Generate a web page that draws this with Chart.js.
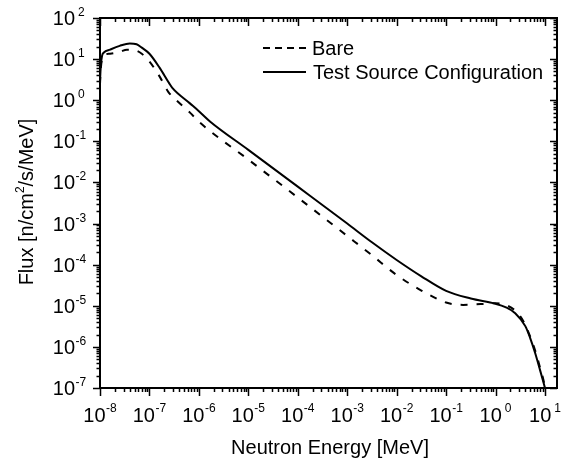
<!DOCTYPE html>
<html>
<head>
<meta charset="utf-8">
<script src="https://cdn.jsdelivr.net/npm/chart.js@4/dist/chart.umd.min.js"></script>
<style>
  html, body { margin: 0; padding: 0; background: #fff; }
  #wrap { width: 563px; height: 460px; }
</style>
</head>
<body>
<div id="wrap"><canvas id="fluxChart" width="563" height="460"></canvas></div>
<script>
// energies in MeV, flux in n/cm2/s/MeV
const bareEnergy = [1e-8, 1.04e-8, 1.1e-8, 1.2e-8, 1.6e-8, 2.5e-8, 3.5e-8, 5e-8, 7e-8, 1e-7, 1.6e-7, 2.4e-7, 3.5e-7, 6.6e-7, 1e-6, 1e-5, 1e-4, 1e-3, 3.16e-3, 1e-2, 3.16e-2, 0.1, 0.22, 0.5, 1, 1.58, 2.5, 3.7, 5, 6.3, 7.9, 9.5, 10];
const bareFlux = [2.5, 6, 10, 12.5, 13.5, 15, 17, 16.5, 13.5, 8.7, 3.8, 1.6, 1.0, 0.5, 0.30, 0.036, 4.3e-3, 5.0e-4, 1.7e-4, 5.6e-5, 2.35e-5, 1.2e-5, 1.05e-5, 1.1e-5, 1.15e-5, 1.05e-5, 7.6e-6, 4.1e-6, 1.8e-6, 8.3e-7, 3.2e-7, 1.4e-7, 1e-7];

const testEnergy = [1e-8, 1.04e-8, 1.1e-8, 1.2e-8, 1.6e-8, 2.5e-8, 4e-8, 5.5e-8, 7e-8, 1e-7, 1.6e-7, 2.5e-7, 2.9e-7, 6.5e-7, 1e-6, 1.7e-6, 1e-5, 1e-4, 1e-3, 3.16e-3, 1e-2, 3.16e-2, 0.1, 0.316, 1, 1.58, 2.5, 4, 5, 6.3, 7.9, 10];
const testFlux = [3.0, 7, 12, 14.5, 17, 21, 24, 23, 19, 13.5, 6.2, 2.6, 2.0, 0.85, 0.54, 0.3, 0.062, 7.9e-3, 1.0e-3, 3.5e-4, 1.3e-4, 5.2e-5, 2.3e-5, 1.5e-5, 1.12e-5, 9.3e-6, 6.6e-6, 3.2e-6, 1.66e-6, 7.2e-7, 2.8e-7, 1e-7];

const xTickExps = [-8, -7, -6, -5, -4, -3, -2, -1, 0, 1];
const yTickExps = [-7, -6, -5, -4, -3, -2, -1, 0, 1, 2];

const seriesNames = ['Bare', 'Test Source Configuration'];
const xTitle = 'Neutron Energy [MeV]';

const FONT = '"Liberation Sans", Arial, Helvetica, sans-serif';

function toPoints(xs, ys) {
    return xs.map((x, i) => ({ x: x, y: ys[i] }));
}

// "10" with a raised exponent
function drawPower(ctx, exp, x, baseY, expY, mode) {
    ctx.font = '20px ' + FONT;
    const wBase = ctx.measureText('10').width;
    ctx.font = '12px ' + FONT;
    const expText = String(exp);
    const wExp = ctx.measureText(expText).width;
    const gap = exp >= 0 ? 3 : 0.5;
    let start;
    if (mode === 'center') {
        start = x - (wBase + gap + wExp) / 2;
    } else {
        start = x - wBase;
    }
    ctx.textAlign = 'left';
    ctx.textBaseline = 'alphabetic';
    ctx.font = '20px ' + FONT;
    ctx.fillText('10', start, baseY);
    ctx.font = '12px ' + FONT;
    ctx.fillText(expText, start + wBase + gap, expY);
}

const framePlugin = {
    id: 'frame',
    afterDraw(chart) {
        const ctx = chart.ctx;
        const a = chart.chartArea;
        const xs = chart.scales.x;
        const ys = chart.scales.y;
        ctx.save();
        ctx.strokeStyle = '#000';
        ctx.fillStyle = '#000';

        // box
        ctx.lineWidth = 2;
        ctx.strokeRect(a.left, a.top, a.right - a.left, a.bottom - a.top);

        // ticks
        ctx.lineWidth = 1.5;
        ctx.beginPath();
        xTickExps.forEach(e => {
            for (let m = 1; m <= 9; m++) {
                const v = m * Math.pow(10, e);
                if (v > xs.max) continue;
                const px = Math.round(xs.getPixelForValue(v)) + 0.5;
                const len = m === 1 ? 8 : 4;
                ctx.moveTo(px, a.bottom);
                ctx.lineTo(px, a.bottom + len);
                ctx.moveTo(px, a.top);
                ctx.lineTo(px, a.top + len);
            }
        });
        yTickExps.forEach(e => {
            for (let m = 1; m <= 9; m++) {
                const v = m * Math.pow(10, e);
                if (v > ys.max * 1.0001) continue;
                const py = Math.round(ys.getPixelForValue(v)) + 0.5;
                const len = m === 1 ? 7 : 3.5;
                ctx.moveTo(a.left, py);
                ctx.lineTo(a.left - len, py);
                ctx.moveTo(a.right, py);
                ctx.lineTo(a.right - len, py);
            }
        });
        ctx.stroke();

        // tick labels
        xTickExps.forEach(e => {
            const px = xs.getPixelForValue(Math.pow(10, e));
            drawPower(ctx, e, px, a.bottom + 34, a.bottom + 24, 'center');
        });
        yTickExps.forEach(e => {
            const py = ys.getPixelForValue(Math.pow(10, e));
            drawPower(ctx, e, 75, py + 7, py - 2, 'right');
        });

        // x title
        ctx.font = '20px ' + FONT;
        ctx.textAlign = 'center';
        ctx.textBaseline = 'alphabetic';
        ctx.fillText(xTitle, (a.left + a.right) / 2 + 1.5, 454);

        // y title, rotated, with superscript 2
        ctx.save();
        ctx.translate(33, 202);
        ctx.rotate(-Math.PI / 2);
        const p1 = 'Flux [n/cm', p2 = '2', p3 = '/s/MeV]';
        ctx.font = '20px ' + FONT;
        const w1 = ctx.measureText(p1).width;
        const w3 = ctx.measureText(p3).width;
        ctx.font = '12px ' + FONT;
        const w2 = ctx.measureText(p2).width;
        let sx = -(w1 + w2 + w3) / 2;
        ctx.textAlign = 'left';
        ctx.font = '20px ' + FONT;
        ctx.fillText(p1, sx, 0);
        ctx.font = '12px ' + FONT;
        ctx.fillText(p2, sx + w1, -9);
        ctx.font = '20px ' + FONT;
        ctx.fillText(p3, sx + w1 + w2, 0);
        ctx.restore();

        // legend
        const rows = [
            { y: 48, dash: [7, 5], text: seriesNames[0], tx: 312 },
            { y: 72, dash: [], text: seriesNames[1], tx: 313 }
        ];
        rows.forEach(r => {
            ctx.beginPath();
            ctx.lineWidth = 2;
            ctx.setLineDash(r.dash);
            ctx.moveTo(263, r.y);
            ctx.lineTo(306, r.y);
            ctx.stroke();
            ctx.setLineDash([]);
            ctx.font = '20px ' + FONT;
            ctx.textAlign = 'left';
            ctx.fillText(r.text, r.tx, r.y + 7);
        });

        ctx.restore();
    }
};

const ctx = document.getElementById('fluxChart').getContext('2d');
const fluxChart = new Chart(ctx, {
    type: 'line',
    data: {
        datasets: [
            {
                label: seriesNames[0],
                data: toPoints(bareEnergy, bareFlux),
                borderColor: '#000',
                borderWidth: 2,
                borderDash: [7, 9],
                pointRadius: 0,
                cubicInterpolationMode: 'monotone',
                fill: false
            },
            {
                label: seriesNames[1],
                data: toPoints(testEnergy, testFlux),
                borderColor: '#000',
                borderWidth: 2,
                pointRadius: 0,
                cubicInterpolationMode: 'monotone',
                fill: false
            }
        ]
    },
    options: {
        responsive: false,
        animation: false,
        layout: { padding: { left: 100, top: 18, right: 6, bottom: 72 } },
        plugins: {
            legend: { display: false },
            tooltip: { enabled: false }
        },
        scales: {
            x: { type: 'logarithmic', min: 1e-8, max: 17.5, display: false },
            y: { type: 'logarithmic', min: 1e-7, max: 100, display: false }
        }
    },
    plugins: [framePlugin]
});
</script>
</body>
</html>
